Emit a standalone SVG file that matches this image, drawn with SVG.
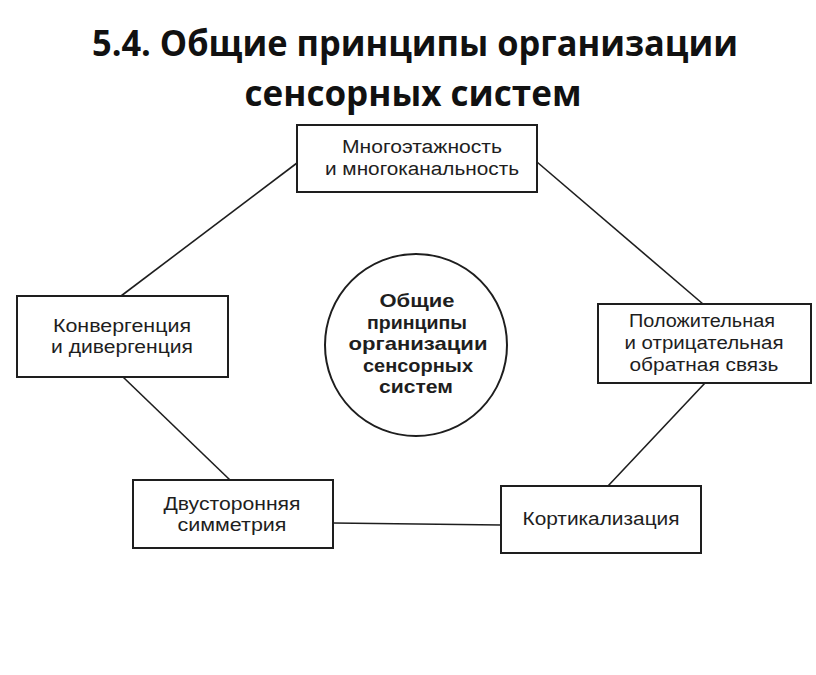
<svg xmlns="http://www.w3.org/2000/svg" width="816" height="675" viewBox="0 0 816 675">
<style>
.bg{fill:#fff}
.box{fill:#fff;stroke:#1e1e1e;stroke-width:2}
.con{stroke:#1e1e1e;stroke-width:1.6;fill:none}
.t{font-family:"Liberation Sans",Arial,sans-serif;font-size:18px;fill:#1e1e1e;text-anchor:middle}
.c{font-family:"Liberation Sans",Arial,sans-serif;font-size:19px;font-weight:bold;fill:#1e1e1e;text-anchor:middle}
.title{font-family:"Open Sans","Liberation Sans",sans-serif;font-size:36px;font-weight:bold;fill:#111;text-anchor:middle}
</style>
<rect class="bg" width="816" height="675"/>
<g id="title">
<text class="title" x="415" y="56" textLength="646" lengthAdjust="spacingAndGlyphs">5.4. Общие принципы организации</text>
<text class="title" x="413" y="106" textLength="337" lengthAdjust="spacingAndGlyphs">сенсорных систем</text>
</g>
<g id="connectors">
<line class="con" x1="297" y1="163" x2="121" y2="296"/>
<line class="con" x1="537" y1="162" x2="703" y2="304"/>
<line class="con" x1="123" y1="377" x2="230" y2="480"/>
<line class="con" x1="333" y1="523" x2="501" y2="525"/>
<line class="con" x1="705" y1="383" x2="608" y2="486"/>
</g>
<g id="center">
<circle cx="416" cy="345" r="91" fill="#fff" stroke="#1e1e1e" stroke-width="2"/>
<text class="c" x="417" y="307" textLength="75" lengthAdjust="spacingAndGlyphs">Общие</text>
<text class="c" x="417" y="329" textLength="100" lengthAdjust="spacingAndGlyphs">принципы</text>
<text class="c" x="418" y="350" textLength="139" lengthAdjust="spacingAndGlyphs">организации</text>
<text class="c" x="418" y="372" textLength="110" lengthAdjust="spacingAndGlyphs">сенсорных</text>
<text class="c" x="416" y="393" textLength="74" lengthAdjust="spacingAndGlyphs">систем</text>
</g>
<g id="node-top">
<rect class="box" x="297" y="125" width="240" height="67"/>
<text class="t" x="422" y="153" textLength="160" lengthAdjust="spacingAndGlyphs">Многоэтажность</text>
<text class="t" x="422" y="175" textLength="194" lengthAdjust="spacingAndGlyphs">и многоканальность</text>
</g>
<g id="node-left">
<rect class="box" x="17" y="296" width="211" height="81"/>
<text class="t" x="122" y="332" textLength="138" lengthAdjust="spacingAndGlyphs">Конвергенция</text>
<text class="t" x="122" y="353" textLength="142" lengthAdjust="spacingAndGlyphs">и дивергенция</text>
</g>
<g id="node-right">
<rect class="box" x="598" y="304" width="213" height="79"/>
<text class="t" x="702" y="327" textLength="146" lengthAdjust="spacingAndGlyphs">Положительная</text>
<text class="t" x="704" y="349" textLength="159" lengthAdjust="spacingAndGlyphs">и отрицательная</text>
<text class="t" x="704" y="371" textLength="149" lengthAdjust="spacingAndGlyphs">обратная связь</text>
</g>
<g id="node-bottom-left">
<rect class="box" x="133" y="480" width="200" height="68"/>
<text class="t" x="232" y="510" textLength="137" lengthAdjust="spacingAndGlyphs">Двусторонняя</text>
<text class="t" x="232" y="531" textLength="109" lengthAdjust="spacingAndGlyphs">симметрия</text>
</g>
<g id="node-bottom-right">
<rect class="box" x="501" y="486" width="200" height="67"/>
<text class="t" x="601" y="525" textLength="157" lengthAdjust="spacingAndGlyphs">Кортикализация</text>
</g>
</svg>
